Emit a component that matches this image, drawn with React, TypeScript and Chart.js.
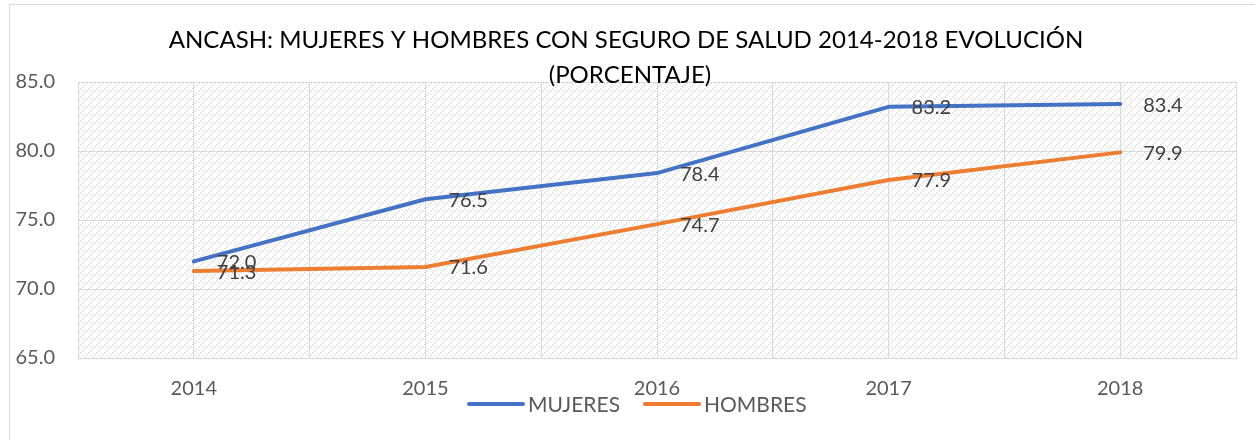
import React, { useEffect, useRef } from "react";
import { Chart, registerables } from "chart.js";

Chart.register(...registerables);

const years = [2014, 2015, 2016, 2017, 2018];
const mujeres = [72.0, 76.5, 78.4, 83.2, 83.4];
const hombres = [71.3, 71.6, 74.7, 77.9, 79.9];
const seriesNames = ["MUJERES", "HOMBRES"];
const seriesColors = ["#4472C4", "#ED7D31"];
const titleLines = [
  "ANCASH: MUJERES Y HOMBRES CON SEGURO DE SALUD 2014-2018 EVOLUCIÓN",
  "(PORCENTAJE)",
];
const yMin = 65;
const yMax = 85;
const yStep = 5;

const FONT = "Lato, 'Open Sans', sans-serif";

function makePattern(): CanvasPattern | string {
  const c = document.createElement("canvas");
  c.width = 8;
  c.height = 8;
  const g = c.getContext("2d");
  if (!g) return "#f4f4f4";
  g.fillStyle = "#ffffff";
  g.fillRect(0, 0, 8, 8);
  g.fillStyle = "#d6d6d6";
  for (let y = 0; y < 8; y++) {
    for (let x = 0; x < 8; x++) {
      if ((((x - y) % 4) + 4) % 4 === 0 && (x + y) % 8 < 4) g.fillRect(x, y, 1, 1);
    }
  }
  const p = g.createPattern(c, "repeat");
  return p || "#f4f4f4";
}

export default function App() {
  const ref = useRef<HTMLCanvasElement | null>(null);

  useEffect(() => {
    document.body.style.margin = "0";
    const canvas = ref.current;
    if (!canvas) return;
    const pattern = makePattern();

    const bgPlugin = {
      id: "bgPlugin",
      beforeDraw(chart: any) {
        const { ctx, chartArea } = chart;
        ctx.save();
        ctx.fillStyle = "#ffffff";
        ctx.fillRect(0, 0, chart.width, chart.height);
        ctx.fillStyle = pattern;
        ctx.fillRect(chartArea.left, chartArea.top, chartArea.right - chartArea.left, chartArea.bottom - chartArea.top);
        ctx.strokeStyle = "#d9d9d9";
        ctx.lineWidth = 1;
        ctx.strokeRect(9.5, 4.5, chart.width + 20, chart.height + 20);
        ctx.restore();
      },
    };

    const overlayPlugin = {
      id: "overlayPlugin",
      afterDatasetsDraw(chart: any) {
        const { ctx } = chart;
        ctx.save();
        ctx.font = `20px ${FONT}`;
        ctx.fillStyle = "#404040";
        ctx.textAlign = "left";
        ctx.textBaseline = "middle";
        chart.data.datasets.forEach((ds: any, i: number) => {
          const meta = chart.getDatasetMeta(i);
          meta.data.forEach((pt: any, j: number) => {
            const v = ds.data[j].y;
            ctx.fillText(v.toFixed(1), pt.x + 23, pt.y + 1);
          });
        });
        ctx.restore();
      },
      afterDraw(chart: any) {
        const { ctx } = chart;
        ctx.save();
        // title
        ctx.fillStyle = "#000000";
        ctx.textAlign = "center";
        ctx.textBaseline = "alphabetic";
        ctx.font = `100px ${FONT}`;
        const w = ctx.measureText(titleLines[0]).width;
        const size = Math.min(26, (100 * 915) / w);
        ctx.font = `${size}px ${FONT}`;
        ctx.fillText(titleLines[0], 626, 48);
        ctx.fillText(titleLines[1], 630, 83);
        // legend
        ctx.font = `21px ${FONT}`;
        ctx.textAlign = "left";
        ctx.textBaseline = "middle";
        const starts = [469, 645];
        chart.data.datasets.forEach((ds: any, i: number) => {
          const x0 = starts[i];
          ctx.strokeStyle = ds.borderColor;
          ctx.lineWidth = 4;
          ctx.lineCap = "round";
          ctx.beginPath();
          ctx.moveTo(x0, 404);
          ctx.lineTo(x0 + 54, 404);
          ctx.stroke();
          ctx.fillStyle = "#595959";
          ctx.fillText(ds.label, x0 + 59, 405);
        });
        ctx.restore();
      },
    };

    const chart = new Chart(canvas, {
      type: "line",
      data: {
        datasets: [mujeres, hombres].map((arr, i) => ({
          label: seriesNames[i],
          data: years.map((yr, j) => ({ x: yr, y: arr[j] })),
          borderColor: seriesColors[i],
          backgroundColor: seriesColors[i],
          borderWidth: 4,
          pointRadius: 0,
          tension: 0,
          borderCapStyle: "round",
          borderJoinStyle: "round",
        })),
      },
      options: {
        responsive: false,
        animation: false,
        layout: { padding: { left: 0, top: 82, right: 11, bottom: 0 } },
        plugins: {
          legend: { display: false },
          title: { display: false },
          tooltip: { enabled: false },
        },
        scales: {
          x: {
            type: "linear",
            min: years[0] - 0.5,
            max: years[years.length - 1] + 0.5,
            afterFit(scale: any) {
              scale.height = 82;
            },
            afterBuildTicks(scale: any) {
              const t: any[] = [];
              for (let v = years[0] - 0.5; v <= years[years.length - 1] + 0.5; v += 0.5) t.push({ value: v });
              scale.ticks = t;
            },
            ticks: {
              padding: 19,
              autoSkip: false,
              maxRotation: 0,
              color: "#595959",
              font: { family: FONT, size: 20 },
              callback: (v: any) => (Number.isInteger(v) ? String(v) : ""),
            },
            grid: { color: "#d9d9d9", lineWidth: 1, drawTicks: false },
            border: { color: "#d9d9d9" },
          },
          y: {
            min: yMin,
            max: yMax,
            afterFit(scale: any) {
              scale.width = 78;
            },
            ticks: {
              stepSize: yStep,
              padding: 23,
              color: "#595959",
              font: { family: FONT, size: 20 },
              callback: (v: any) => Number(v).toFixed(1),
            },
            grid: { color: "#d9d9d9", lineWidth: 1, drawTicks: false },
            border: { color: "#d9d9d9" },
          },
        },
      },
      plugins: [bgPlugin, overlayPlugin],
    } as any);

    return () => chart.destroy();
  }, []);

  return <canvas ref={ref} width={1255} height={440} style={{ display: "block" }} />;
}
